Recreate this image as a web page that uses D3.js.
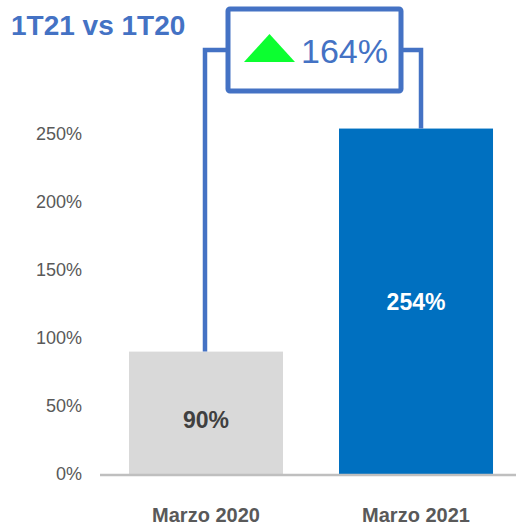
<!DOCTYPE html>
<html lang="es">
<head>
<meta charset="UTF-8">
<title>1T21 vs 1T20</title>
<script src="https://d3js.org/d3.v7.min.js"></script>
<style>
  body { margin: 0; background: #fff; font-family: Arial, "Liberation Sans", sans-serif; }
  .tick-label { font-size: 18px; fill: #595959; text-anchor: end; }
  .cat-label { font-size: 20px; font-weight: bold; fill: #595959; text-anchor: middle; }
  .val-label { font-size: 23px; font-weight: bold; text-anchor: middle; }
</style>
</head>
<body>
<svg id="chart" width="516" height="525"></svg>
<script>
// data
const categories = ["Marzo 2020", "Marzo 2021"];
const values = [90, 254];
const barColors = ["#d9d9d9", "#0070c0"];
const labelColors = ["#404040", "#ffffff"];
const ticks = [0, 50, 100, 150, 200, 250];
const change = "164%";
const title = "1T21 vs 1T20";

const svg = d3.select("#chart");
const blue = "#4472c4";

// scales
const y = d3.scaleLinear().domain([0, 250]).range([474, 134]);
const x = d3.scaleBand().domain(categories).range([100, 522]).paddingInner(0.2667).paddingOuter(0.138);

// y tick labels (no axis line)
svg.append("g").selectAll("text")
  .data(ticks)
  .enter().append("text")
  .attr("class", "tick-label")
  .attr("x", 82)
  .attr("y", d => y(d) + 6)
  .text(d => d + "%");

// bars
svg.append("g").selectAll("rect")
  .data(values)
  .enter().append("rect")
  .attr("x", (d, i) => x(categories[i]))
  .attr("y", d => y(d))
  .attr("width", x.bandwidth())
  .attr("height", d => y(0) - y(d))
  .attr("fill", (d, i) => barColors[i]);

// baseline
svg.append("line")
  .attr("x1", 100).attr("x2", 516)
  .attr("y1", y(0) + 1).attr("y2", y(0) + 1)
  .attr("stroke", "#bfbfbf").attr("stroke-width", 2.5);

// value labels
svg.append("g").selectAll("text")
  .data(values)
  .enter().append("text")
  .attr("class", "val-label")
  .attr("x", (d, i) => x(categories[i]) + x.bandwidth() / 2)
  .attr("y", (d, i) => i === 0 ? 428 : 310)
  .attr("fill", (d, i) => labelColors[i])
  .text(d => d + "%");

// category labels
svg.append("g").selectAll("text")
  .data(categories)
  .enter().append("text")
  .attr("class", "cat-label")
  .attr("x", d => x(d) + x.bandwidth() / 2)
  .attr("y", 522)
  .text(d => d);

// connector bracket
const cx0 = x(categories[0]) + x.bandwidth() / 2 - 1;
const cx1 = x(categories[1]) + x.bandwidth() / 2 + 5;
const boxL = 228, boxR = 401, boxT = 9, boxB = 91, joinY = 50;

svg.append("path")
  .attr("d", `M${cx0},${y(values[0])} V${joinY} H${boxL}`)
  .attr("fill", "none").attr("stroke", blue).attr("stroke-width", 4.5);
svg.append("path")
  .attr("d", `M${boxR},${joinY} H${cx1} V${y(values[1])}`)
  .attr("fill", "none").attr("stroke", blue).attr("stroke-width", 4.5);

svg.append("rect")
  .attr("x", boxL).attr("y", boxT)
  .attr("width", boxR - boxL).attr("height", boxB - boxT)
  .attr("rx", 2)
  .attr("fill", "#fff").attr("stroke", blue).attr("stroke-width", 5);

// green up triangle
svg.append("path")
  .attr("d", "M244,62 L269.5,34 L295,62 Z")
  .attr("fill", "#0cff30");

svg.append("text")
  .attr("x", 301).attr("y", 63)
  .attr("font-size", 34)
  .attr("fill", blue)
  .text(change);

// title
svg.append("text")
  .attr("x", 11).attr("y", 35)
  .attr("font-size", 28)
  .attr("font-weight", "bold")
  .attr("fill", blue)
  .text(title);
</script>
</body>
</html>
